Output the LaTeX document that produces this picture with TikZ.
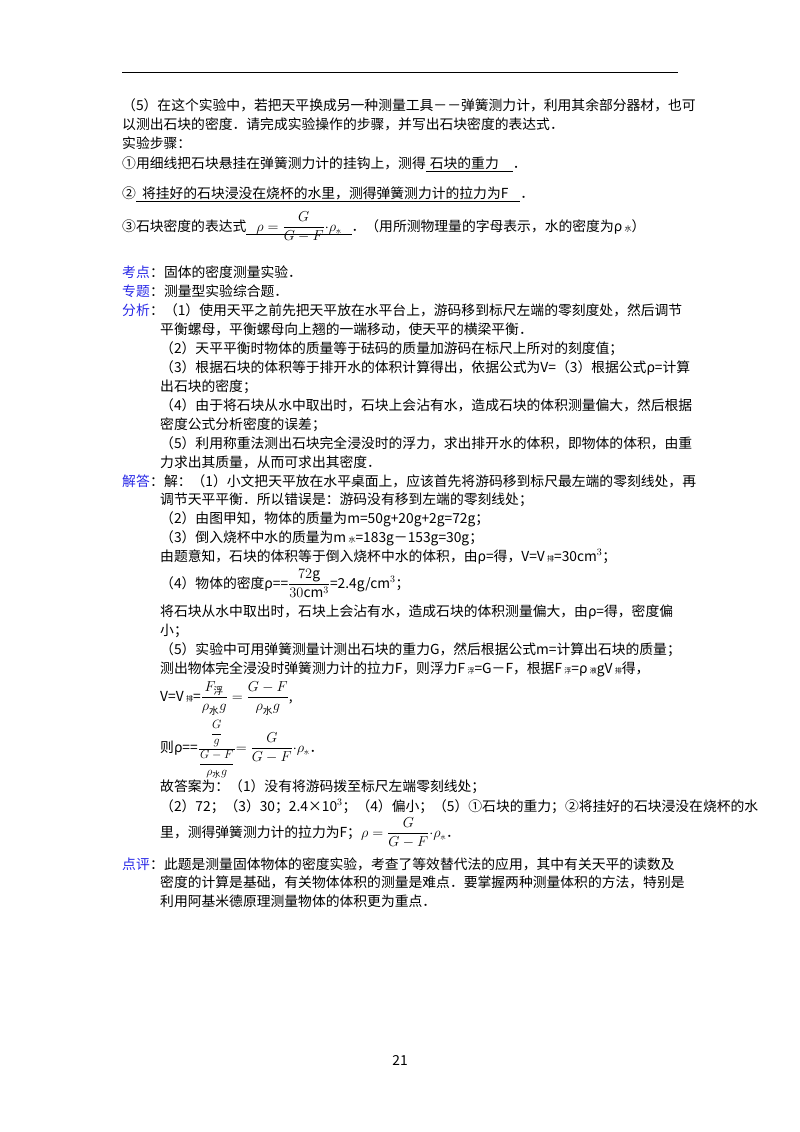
\documentclass[tikz,border=0pt]{standalone}
\usepackage{amsmath}
\usepackage{fontspec}
\setmainfont{Noto Sans CJK SC}
\newcommand\ulx[1]{\setbox0\hbox{#1}\rlap{\rule[-3pt]{\wd0}{0.5pt}}\box0}
\begin{document}
\begin{tikzpicture}[x=1pt,y=-1pt,
  t/.style={anchor=base west,inner sep=0pt,font=\fontsize{13.8}{15}\selectfont},
  lb/.style={t,text={rgb,255:red,40;green,40;blue,230}}]
\useasboundingbox (0,0) rectangle (800,1132);
\draw[line width=0.8pt] (122,72) -- (678,72);
\node[t] (a1) at (122,110) {（5）在这个实验中，若把天平换成另一种测量工具－－弹簧测力计，利用其余部分器材，也可};
\node[t] (a2) at (122,129) {以测出石块的密度．请完成实验操作的步骤，并写出石块密度的表达式．};
\node[t] (a3) at (122,148) {实验步骤：};
\node[t] (a4) at (122,168) {①用细线把石块悬挂在弹簧测力计的挂钩上，测得\ulx{\hspace{4pt}石块的重力\hspace{14pt}}．};
\node[t] (a5) at (122,198) {②\ulx{\hspace{6pt}将挂好的石块浸没在烧杯的水里，测得弹簧测力计的拉力为F\hspace{12pt}}．};
\node[t] (a6) at (122,231) {③石块密度的表达式\ulx{\hspace{10pt}$\rho=\dfrac{G}{G-F}{\cdot}\rho_{\text{\tiny 水}}$\hspace{10pt}}．（用所测物理量的字母表示，水的密度为ρ\,{\scriptsize 水}）};
\node[lb] (k1) at (122,277) {考点};
\node[t] (k1t) at (k1.base east) {：固体的密度测量实验．};
\node[lb] (k2) at (122,296) {专题};
\node[t] (k2t) at (k2.base east) {：测量型实验综合题．};
\node[lb] (k3) at (122,315) {分析};
\node[t] (k3t) at (k3.base east) {：（1）使用天平之前先把天平放在水平台上，游码移到标尺左端的零刻度处，然后调节};
\node[t] at (160,334) {平衡螺母，平衡螺母向上翘的一端移动，使天平的横梁平衡．};
\node[t] at (160,353) {（2）天平平衡时物体的质量等于砝码的质量加游码在标尺上所对的刻度值；};
\node[t] at (160,372) {（3）根据石块的体积等于排开水的体积计算得出，依据公式为V=（3）根据公式ρ=计算};
\node[t] at (160,391) {出石块的密度；};
\node[t] at (160,410) {（4）由于将石块从水中取出时，石块上会沾有水，造成石块的体积测量偏大，然后根据};
\node[t] at (160,429) {密度公式分析密度的误差；};
\node[t] at (160,448) {（5）利用称重法测出石块完全浸没时的浮力，求出排开水的体积，即物体的体积，由重};
\node[t] at (160,467) {力求出其质量，从而可求出其密度．};
\node[lb] (k4) at (122,486) {解答};
\node[t] (k4t) at (k4.base east) {：解：（1）小文把天平放在水平桌面上，应该首先将游码移到标尺最左端的零刻线处，再};
\node[t] at (160,504) {调节天平平衡．所以错误是：游码没有移到左端的零刻线处；};
\node[t] at (160,523) {（2）由图甲知，物体的质量为m=50g+20g+2g=72g；};
\node[t] at (160,542) {（3）倒入烧杯中水的质量为m\,{\scriptsize 水}=183g－153g=30g；};
\node[t] at (160,561) {由题意知，石块的体积等于倒入烧杯中水的体积，由ρ=得，V=V\,{\scriptsize 排}=30cm$^3$；};
\node[t] at (160,588) {（4）物体的密度ρ==$\dfrac{72\mathrm{g}}{30\mathrm{cm}^3}$=2.4g/cm$^3$；};
\node[t] at (160,616) {将石块从水中取出时，石块上会沾有水，造成石块的体积测量偏大，由ρ=得，密度偏};
\node[t] at (160,635) {小；};
\node[t] at (160,654) {（5）实验中可用弹簧测量计测出石块的重力G，然后根据公式m=计算出石块的质量；};
\node[t] at (160,673) {测出物体完全浸没时弹簧测力计的拉力F，则浮力F\,{\scriptsize 浮}=G－F，根据F\,{\scriptsize 浮}=ρ\,{\scriptsize 液}gV\,{\scriptsize 排}得，};
\node[t] at (160,701) {V=V\,{\scriptsize 排}=$\dfrac{F_{\text{浮}}}{\rho_{\text{水}}g}=\dfrac{G-F}{\rho_{\text{水}}g}$,};
\node[t] at (160,752) {则ρ==\fontsize{11.5}{13}\selectfont$\dfrac{\dfrac{G}{g}}{\dfrac{G-F}{\rho_{\text{水}}g}}$\fontsize{13.8}{15}\selectfont$=\dfrac{G}{G-F}{\cdot}\rho_{\text{\tiny 水}}$．};
\node[t] at (160,791) {故答案为：（1）没有将游码拨至标尺左端零刻线处；};
\node[t] at (160,811) {（2）72；（3）30；2.4×10$^3$；（4）偏小；（5）①石块的重力；②将挂好的石块浸没在烧杯的水};
\node[t] at (160,837) {里，测得弹簧测力计的拉力为F；$\rho=\dfrac{G}{G-F}{\cdot}\rho_{\text{\tiny 水}}$．};
\node[lb] (k5) at (122,869) {点评};
\node[t] (k5t) at (k5.base east) {：此题是测量固体物体的密度实验，考查了等效替代法的应用，其中有关天平的读数及};
\node[t] at (160,887) {密度的计算是基础，有关物体体积的测量是难点．要掌握两种测量体积的方法，特别是};
\node[t] at (160,906) {利用阿基米德原理测量物体的体积更为重点．};
\node[t,anchor=base] (pg) at (400,1065) {21};
\end{tikzpicture}
\end{document}
